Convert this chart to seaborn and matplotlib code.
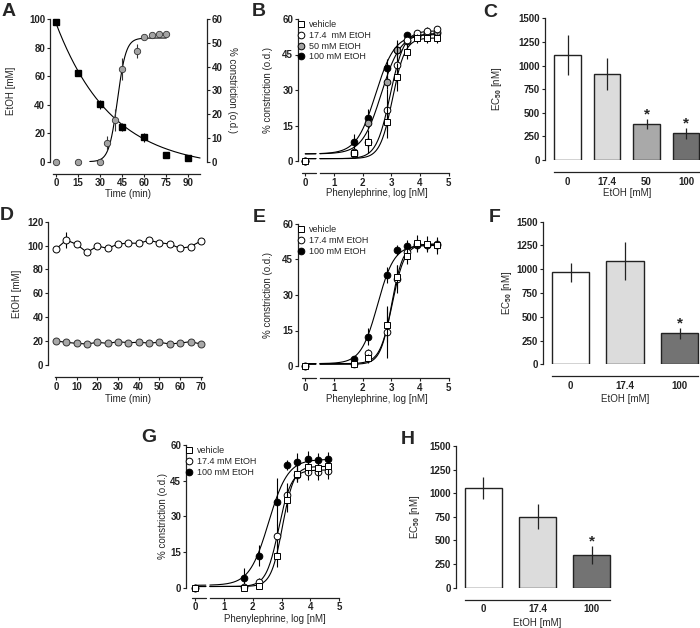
import numpy as np
import seaborn as sns
import matplotlib
matplotlib.use("Agg")
import matplotlib.pyplot as plt
import matplotlib.transforms as mtransforms
from matplotlib.lines import Line2D

# ---------------- data ----------------
# A: EtOH in bath (left axis) and constriction (right axis) over time
a_time_etoh = [0, 15, 30, 45, 60, 75, 90]
a_etoh = [97.7, 62.4, 40.2, 24.3, 17.0, 4.4, 2.6]
a_etoh_err = [0, 0, 3, 3, 3, 0, 0]
a_time_con = [0, 15, 30, 35, 40, 45, 55, 60, 65, 70, 75]
a_con = [0, 0, 0, 8.0, 17.5, 39.0, 46.5, 52.3, 53.3, 53.6, 53.7]
a_con_err = [0, 0, 0, 3, 4.5, 4.5, 3, 0, 0, 0, 0]
a_decay_fit = (97.0, -5.0, 0.0265)   # y0, plateau, k
a_sigmoid_fit = (52.0, 41.8, 2.9)    # top, t50, width

# phenylephrine doses (log nM), 0 = no agonist
dose_log = [0, 1.7, 2.2, 2.85, 3.2, 3.55, 3.9, 4.25, 4.6]

# B
b_vehicle = [0, 3.2, 8.2, 16.6, 35.6, 46.2, 51.8, 51.8, 51.8]
b_vehicle_err = [0, 1.5, 5, 7, 6, 3, 2, 2, 2]
b_174 = [0, 3.0, 8.0, 21.5, 40.6, 51.0, 54.0, 55.0, 55.6]
b_174_err = [0, 1, 3, 9, 8, 2, 1.5, 1.5, 1.5]
b_50 = [0, 4.0, 15.9, 33.5, 46.9, 50.8, 53.0, 54.0, 54.5]
b_50_err = [0, 1, 2, 3, 3, 2, 1.5, 1.5, 1.5]
b_100 = [0, 8.2, 18.0, 39.2, 47.0, 53.2, 53.0, 53.5, 54.0]
b_100_err = [0, 3, 4, 4, 4, 1.5, 1.5, 1.5, 1.5]
# fits: bottom, top, logEC50, hill
b_fits = {"vehicle": (1, 52, 3.04, 2.0), "17.4": (1, 55, 2.96, 1.8),
          "50": (3, 54, 2.65, 1.3), "100": (3, 53.5, 2.45, 1.3)}

# C
c_conc = ["0", "17.4", "50", "100"]
c_ec50 = [1112, 911, 381, 282]
c_sem = [215, 170, 58, 57]
c_sig = [False, False, True, True]

# D
d_time = [0, 5, 10, 15, 20, 25, 30, 35, 40, 45, 50, 55, 60, 65, 70]
d_100 = [97.1, 104.7, 101.0, 94.3, 99.6, 97.7, 101.3, 102.1, 101.9, 104.4,
         102.4, 101.3, 97.7, 99.1, 103.8]
d_100_err = [0, 7, 0, 0, 0, 0, 0, 0, 0, 0, 0, 0, 0, 0, 0]
d_174 = [20.1, 19.0, 18.1, 17.6, 19.0, 18.1, 19.5, 18.7, 19.0, 18.4, 19.0,
         17.6, 18.4, 19.5, 17.6]

# E
e_vehicle = [0, 0.8, 3.2, 17.3, 37.7, 46.6, 51.8, 51.5, 51.0]
e_vehicle_err = [0, 0.8, 2, 7, 5, 3.5, 3.5, 3.5, 3.5]
e_174 = [0, 0.8, 5.3, 14.5, 36.7, 48.0, 51.5, 51.0, 51.5]
e_174_err = [0, 0.5, 2, 11, 6, 2, 2, 2, 2]
e_100 = [0, 2.8, 12.4, 38.4, 49.0, 50.8, 51.0, 51.0, 51.0]
e_100_err = [0, 0.8, 3.5, 3.5, 2, 2.5, 2, 2, 2]
e_fits = {"vehicle": (0.7, 51.5, 3.01, 2.2), "17.4": (1, 51.5, 3.03, 2.0),
          "100": (1, 51, 2.52, 1.5)}

# F
f_conc = ["0", "17.4", "100"]
f_ec50 = [967, 1090, 326]
f_sem = [100, 200, 60]
f_sig = [False, False, True]

# G
g_vehicle = [0, 0, 0.7, 13.5, 36.9, 47.8, 50.9, 50.5, 51.0]
g_vehicle_err = [0, 0.5, 1, 5, 5, 3.5, 3, 3, 3]
g_174 = [0, 0.5, 2.5, 21.9, 39.0, 47.5, 48.8, 48.8, 49.0]
g_174_err = [0, 0.5, 1.5, 5, 5, 3, 3.5, 3.5, 3.5]
g_100 = [0, 4.2, 13.5, 36.2, 51.6, 53.0, 54.1, 53.7, 54.0]
g_100_err = [0, 4, 4.5, 10, 2, 3.5, 3.5, 3, 3]
g_fits = {"vehicle": (0.5, 51, 3.03, 2.2), "17.4": (0.5, 49.5, 2.9, 2.0),
          "100": (1, 54, 2.55, 1.3)}

# H
h_conc = ["0", "17.4", "100"]
h_ec50 = [1059, 752, 346]
h_sem = [115, 135, 95]
h_sig = [False, False, True]

# ---------------- style ----------------
sns.set_style("ticks")
plt.rcParams["font.family"] = ["Liberation Sans", "DejaVu Sans"]
plt.rcParams["font.weight"] = "bold"
plt.rcParams["mathtext.fontset"] = "custom"
plt.rcParams["mathtext.rm"] = "Liberation Sans"
plt.rcParams["mathtext.bf"] = "Liberation Sans:bold"

INK = "#222222"
GREY = "#a3a3a3"
TICK_FS = 7
LAB_FS = 7
W, H = 700, 628
fig = plt.figure(figsize=(7, 6.28), dpi=100)


def box(l, r, t, b):
    return fig.add_axes([l / W, 1 - b / H, (r - l) / W, (b - t) / H])


def style(ax, ybounds, xbounds=None, xticks_len=2.5, offset=8.5, xpad=1):
    for s in ["top", "right"]:
        ax.spines[s].set_visible(False)
    for s in ["left", "bottom"]:
        ax.spines[s].set_color(INK)
        ax.spines[s].set_linewidth(0.9)
    ax.spines["bottom"].set_position(("outward", offset))
    ax.spines["left"].set_bounds(*ybounds)
    if xbounds is not None:
        ax.spines["bottom"].set_bounds(*xbounds)
    ax.tick_params(axis="y", length=2.5, width=0.8, pad=1, labelsize=TICK_FS, colors=INK)
    ax.tick_params(axis="x", length=xticks_len, width=0.8, pad=xpad, labelsize=TICK_FS, colors=INK)


def ylab(ax, text, xpx, rot=90):
    ax.set_ylabel(text, fontsize=LAB_FS, rotation=rot)
    ax.yaxis.label.set_va("center")
    p = ax.get_position()
    ax.yaxis.set_label_coords(xpx / W, (p.y0 + p.y1) / 2, transform=fig.transFigure)


def xlab(ax, text, xpx, ypx):
    ax.set_xlabel(text, fontsize=LAB_FS)
    ax.xaxis.label.set_va("center")
    ax.xaxis.set_label_coords(xpx / W, 1 - ypx / H, transform=fig.transFigure)


def letter(txt, xpx, ypx):
    fig.text(xpx / W, 1 - ypx / H, txt, ha="center", va="center",
             fontsize=14, fontweight="bold")


def hill(x, bottom, top, logec, h):
    return bottom + (top - bottom) / (1 + 10 ** ((logec - x) * h))


MARK = {"vehicle": ("s", "white"), "17.4": ("o", "white"),
        "50": ("o", GREY), "100": ("o", "black")}


def dose_panel(ax, series, fits, labels, xlim, offset=8.5, xpad=1):
    xs = np.concatenate([np.linspace(0, 0.37, 10), [np.nan], np.linspace(0.51, 4.6, 200)])
    z = 3
    for key, y, err in series[::-1]:
        ax.plot(xs, hill(xs, *fits[key]), color="black", lw=0.8, zorder=2)
        m, fc = MARK[key]
        ax.errorbar(dose_log, y, yerr=err, fmt=m, ms=4.8, mfc=fc, mec="black",
                    mew=0.7, ecolor="black", elinewidth=0.8, capsize=0,
                    clip_on=False, zorder=z)
        z += 1
    ax.set_xlim(*xlim)
    ax.set_ylim(0, 60)
    ax.set_yticks([0, 15, 30, 45, 60])
    ax.set_xticks([0, 1, 2, 3, 4, 5])
    style(ax, (0, 60), (0.51, 5.0), offset=offset, xpad=xpad)
    trans = mtransforms.offset_copy(ax.get_xaxis_transform(), fig=fig, y=-offset, units="points")
    ax.plot([-0.1, 0.37], [0, 0], transform=trans, color=INK, lw=0.9, clip_on=False)
    handles = [Line2D([], [], ls="none", marker=MARK[k][0], ms=4.8, mfc=MARK[k][1],
                      mec="black", mew=0.7) for k, _, _ in series]
    ax.legend(handles, labels, loc="upper left", bbox_to_anchor=(-0.005, 0.99),
              frameon=False, prop={"weight": "normal", "size": 6.5},
              handlelength=0.8, handletextpad=0.55, borderaxespad=0, borderpad=0,
              labelspacing=0.18)


def bar_panel(ax, conc, vals, sems, sig, colors, xlim):
    sns.barplot(x=conc, y=vals, hue=conc, palette=colors, legend=False, width=0.68,
                edgecolor=INK, linewidth=1.0, ax=ax)
    ax.errorbar(range(len(vals)), vals, yerr=sems, fmt="none", ecolor=INK,
                elinewidth=0.9, capsize=0, zorder=3)
    for i, (v, e, s) in enumerate(zip(vals, sems, sig)):
        if s:
            ax.text(i, v + e + 48, "*", ha="center", va="center", fontsize=11)
    ax.set_xlim(*xlim)
    ax.set_ylim(0, 1500)
    ax.set_yticks([0, 250, 500, 750, 1000, 1250, 1500])
    style(ax, (0, 1500), (-0.34, len(vals) - 1 + 0.34), xticks_len=0)
    ax.tick_params(axis="x", pad=3.5)


# ---------------- panel A ----------------
axA = box(50, 206.7, 19, 161.7)
t_dec = np.linspace(0, 98, 200)
y0, plat, k = a_decay_fit
axA.plot(t_dec, (y0 - plat) * np.exp(-k * t_dec) + plat, color="black", lw=0.8)
axA.errorbar(a_time_etoh, a_etoh, yerr=a_etoh_err, fmt="s", ms=4.6, mfc="black",
             mec="black", ecolor="black", elinewidth=0.8, capsize=0, clip_on=False, zorder=3)
axA.set_xlim(-4.08, 102.5)
axA.set_ylim(0, 100)
axA.set_xticks([0, 15, 30, 45, 60, 75, 90])
axA.set_yticks([0, 20, 40, 60, 80, 100])
style(axA, (0, 100), (-2, 98))
axA2 = axA.twinx()
t_sig = np.linspace(23, 75, 200)
top, t50, wid = a_sigmoid_fit
axA2.plot(t_sig, top / (1 + np.exp((t50 - t_sig) / wid)), color="black", lw=0.8)
axA2.errorbar(a_time_con, a_con, yerr=a_con_err, fmt="o", ms=4.6, mfc=GREY,
              mec="#333333", mew=0.6, ecolor="#333333", elinewidth=0.8, capsize=0,
              clip_on=False, zorder=3)
axA2.set_ylim(0, 60)
axA2.set_yticks([0, 10, 20, 30, 40, 50, 60])
for s in ["left", "top", "bottom"]:
    axA2.spines[s].set_visible(False)
axA2.spines["right"].set_bounds(0, 60)
axA2.spines["right"].set_color(INK)
axA2.spines["right"].set_linewidth(0.9)
axA2.tick_params(axis="y", length=2.5, width=0.8, pad=1, labelsize=TICK_FS, colors=INK)
ylab(axA, "EtOH [mM]", 10.7)
ylab(axA2, "% constriction (o.d.)", 232, rot=270)
xlab(axA, "Time (min)", 128, 194)

# ---------------- panel B ----------------
axB = box(298, 455, 19, 161)
dose_panel(axB, [("vehicle", b_vehicle, b_vehicle_err), ("17.4", b_174, b_174_err),
                 ("50", b_50, b_50_err), ("100", b_100, b_100_err)], b_fits,
           ["vehicle", "17.4  mM EtOH", "50 mM EtOH", "100 mM EtOH"], (-0.254, 5.216))
ylab(axB, "% constriction (o.d.)", 268)
xlab(axB, "Phenylephrine, log [nM]", 377, 193.5)

# ---------------- panel C ----------------
axC = box(545, 700, 18.3, 160)
bar_panel(axC, c_conc, c_ec50, c_sem, c_sig, ["white", "#dcdcdc", "#a9a9a9", "#707070"],
          (-0.57, 3.354))
ylab(axC, "EC$_{\\mathbf{50}}$ [nM]", 497)
xlab(axC, "EtOH [mM]", 627, 193.5)

# ---------------- panel D ----------------
axD = box(48.3, 211, 221.7, 365)
axD.errorbar(d_time, d_100, yerr=d_100_err, fmt="none", ecolor="black",
             elinewidth=0.8, capsize=0, zorder=1.5)
sns.lineplot(x=d_time, y=d_100, ax=axD, color="black", lw=0.8, marker="o", ms=5,
             mfc="white", mec="black", mew=0.7, clip_on=False)
sns.lineplot(x=d_time, y=d_174, ax=axD, color="black", lw=0.8, marker="o", ms=5,
             mfc="#a8a8a8", mec="#333333", mew=0.7, clip_on=False)
axD.set_xlim(-3.72, 74.9)
axD.set_ylim(0, 120)
axD.set_xticks(range(0, 71, 10))
axD.set_yticks(range(0, 121, 20))
style(axD, (0, 120), (-0.5, 70.5))
ylab(axD, "EtOH [mM]", 16.7)
xlab(axD, "Time (min)", 128, 398.5)

# ---------------- panel E ----------------
axE = box(298, 455, 224, 366)
dose_panel(axE, [("vehicle", e_vehicle, e_vehicle_err), ("17.4", e_174, e_174_err),
                 ("100", e_100, e_100_err)], e_fits,
           ["vehicle", "17.4 mM EtOH", "100 mM EtOH"], (-0.254, 5.216))
ylab(axE, "% constriction (o.d.)", 268.3)
xlab(axE, "Phenylephrine, log [nM]", 377, 398.5)

# ---------------- panel F ----------------
axF = box(543, 700, 221.7, 364.3)
bar_panel(axF, f_conc, f_ec50, f_sem, f_sig, ["white", "#dcdcdc", "#737373"],
          (-0.505, 2.376))
ylab(axF, "EC$_{\\mathbf{50}}$ [nM]", 506.7)
xlab(axF, "EtOH [mM]", 625, 398.5)

# ---------------- panel G ----------------
axG = box(186, 346, 445, 587.7)
dose_panel(axG, [("vehicle", g_vehicle, g_vehicle_err), ("17.4", g_174, g_174_err),
                 ("100", g_100, g_100_err)], g_fits,
           ["vehicle", "17.4 mM EtOH", "100 mM EtOH"], (-0.319, 5.236),
           offset=7.5, xpad=0.5)
ylab(axG, "% constriction (o.d.)", 163.3)
xlab(axG, "Phenylephrine, log [nM]", 275, 619)

# ---------------- panel H ----------------
axH = box(456, 620, 446, 587.7)
bar_panel(axH, h_conc, h_ec50, h_sem, h_sig, ["white", "#dcdcdc", "#737373"],
          (-0.504, 2.52))
ylab(axH, "EC$_{\\mathbf{50}}$ [nM]", 415)
xlab(axH, "EtOH [mM]", 537, 623)

for txt, x, y in [("A", 9, 12), ("B", 259, 12), ("C", 490, 12.5), ("D", 7, 215),
                  ("E", 259, 217), ("F", 495, 217), ("G", 149, 438), ("H", 408, 439)]:
    letter(txt, x, y)

fig.savefig("out.png", dpi=100)
